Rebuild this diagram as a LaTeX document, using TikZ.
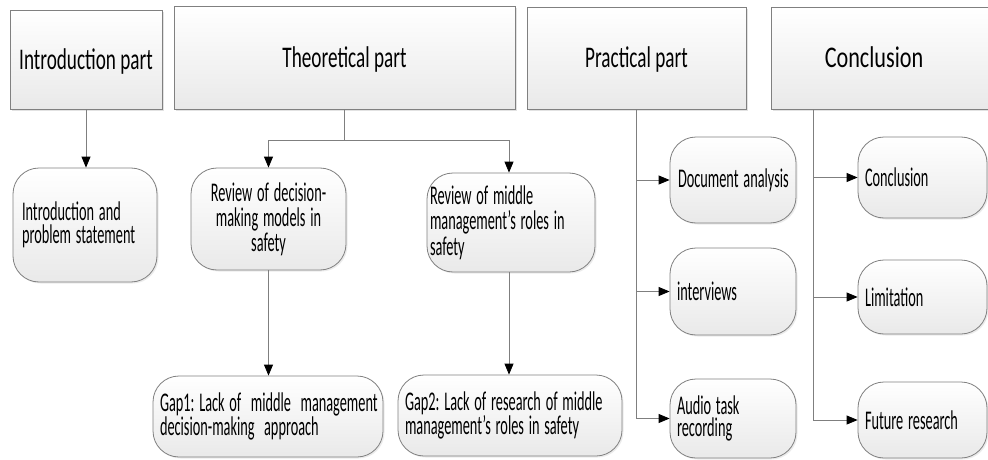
\documentclass[tikz,border=0pt]{standalone}
\usepackage{fontspec}
\setmainfont{Carlito}
\frenchspacing
% horizontally condensed lettering
\newcommand\hdline[1]{\scalebox{0.64}[1]{#1}}
\newcommand\hdwline[1]{\scalebox{0.74}[1]{#1}}
\newcommand\bdline[1]{\scalebox{0.53}[1]{#1}}
\usetikzlibrary{arrows.meta,shadows}
\definecolor{boxgray}{HTML}{808080}
\definecolor{linegray}{HTML}{7F7F7F}
\definecolor{fillbot}{HTML}{E9E9E9}

\begin{document}
\begin{tikzpicture}[x=1pt,y=-1pt,
  header/.style={draw=boxgray, line width=0.8pt, top color=white, bottom color=fillbot,
    drop shadow={shadow xshift=2pt, shadow yshift=-2pt, fill=black!22},
    font=\fontsize{30}{30}\selectfont, text height=19.3pt, text depth=0pt, inner sep=0pt},
  pill/.style={draw=boxgray, line width=0.8pt, rounded corners=26pt,
    top color=white, bottom color=fillbot,
    drop shadow={shadow xshift=1.5pt, shadow yshift=-1.5pt, fill=black!15},
    font=\fontsize{27}{23.5}\selectfont, align=left, inner ysep=0pt},
  link/.style={draw=linegray, line width=0.8pt},
  tip/.style={-{Triangle[length=11pt,width=9pt,color=black]}}
]
\fill[white] (0,0) rectangle (988,460);
\useasboundingbox (0,0) rectangle (988,460);
\clip (0,0) rectangle (988,460);

% section headers
\node[header, minimum width=152pt, minimum height=99pt]  (hIntro) at (86,59.5)   {\hdline{Introduction part}};
\node[header, minimum width=341pt, minimum height=103pt] (hTheo)  at (344.5,57.5) {\hdline{Theoretical part}};
\node[header, minimum width=219pt, minimum height=102pt] (hPrac)  at (636.5,58)  {\hdline{Practical part}};
\node[header, minimum width=229pt, minimum height=102pt]
  (hConc) at (885.5,58) {\hspace*{-23pt}\hdwline{Conclusion}};

% introduction column
\node[pill, minimum width=144pt, minimum height=114pt, inner xsep=9pt, text width=126pt]
  (bIntro) at (85,225) {\bdline{Introduction and}\\\bdline{problem statement}};

% theoretical column
\node[pill, minimum width=155pt, minimum height=102pt, inner xsep=6pt, text width=143pt, align=center,
  font=\fontsize{27}{25}\selectfont]
  (bRev1) at (268.5,219) {\bdline{Review of decision-}\\\bdline{making models in}\\\bdline{safety}};
\node[pill, minimum width=168pt, minimum height=99pt, inner xsep=3pt, text width=162pt,
  font=\fontsize{27}{25.5}\selectfont]
  (bRev2) at (511,222.5) {\bdline{Review of middle}\\\bdline{management’s roles in}\\\bdline{safety}};
\node[pill, minimum width=230pt, minimum height=81pt, inner xsep=7pt, text width=216pt,
  font=\fontsize{27}{22.5}\selectfont]
  (bGap1) at (268,416.5) {\bdline{Gap1: Lack of \ middle \ management}\\\bdline{decision-making \ approach}};
\node[pill, minimum width=224pt, minimum height=81pt, inner xsep=7pt, text width=210pt,
  font=\fontsize{27}{22.5}\selectfont]
  (bGap2) at (510,415.5) {\bdline{Gap2: Lack of research of middle}\\\bdline{management’s roles in safety}};

% practical column
\node[pill, minimum width=126pt, minimum height=86pt, inner xsep=8pt, text width=110pt]
  (bDoc) at (733,180) {\bdline{Document analysis}};
\node[pill, minimum width=126pt, minimum height=87pt, inner xsep=7pt, text width=112pt]
  (bInt) at (733,291.5) {\bdline{interviews}};
\node[pill, minimum width=126pt, minimum height=79pt, inner xsep=7pt, text width=112pt,
  font=\fontsize{27}{22.5}\selectfont]
  (bAud) at (733,418.5) {\bdline{Audio task}\\\bdline{recording}};

% conclusion column
\node[pill, minimum width=129pt, minimum height=81pt, inner xsep=7pt, text width=115pt]
  (bConc) at (922.5,177.5) {\bdline{Conclusion}};
\node[pill, minimum width=129pt, minimum height=74pt, inner xsep=7pt, text width=115pt]
  (bLim) at (922.5,297) {\bdline{Limitation}};
\node[pill, minimum width=129pt, minimum height=76pt, inner xsep=7pt, text width=115pt]
  (bFut) at (922.5,420) {\bdline{Future research}};

% connectors
\draw[link,tip] (hIntro.south) -- (hIntro.south |- bIntro.north);

\coordinate (tj) at (hTheo.south |- 0,140);
\draw[link] (hTheo.south) -- (tj);
\draw[link,tip] (tj) -| (bRev1.north);
\draw[link,tip] (tj) -| ([xshift=-2pt]bRev2.north);
\draw[link,tip] (bRev1.south) -- (bRev1.south |- bGap1.north);
\draw[link,tip] ([xshift=-2pt]bRev2.south) -- ([xshift=-2pt]bRev2.south |- bGap2.north);

\draw[link,tip] (hPrac.south) |- (bAud.west);
\draw[link,tip] (hPrac.south |- bDoc.west) -- (bDoc.west);
\draw[link,tip] (hPrac.south |- bInt.west) -- (bInt.west);

\coordinate (cTop) at (813,0 |- hConc.south);
\draw[link,tip] (cTop) |- (bFut.west);
\draw[link,tip] (cTop |- bConc.west) -- (bConc.west);
\draw[link,tip] (cTop |- bLim.west) -- (bLim.west);
\end{tikzpicture}
\end{document}
